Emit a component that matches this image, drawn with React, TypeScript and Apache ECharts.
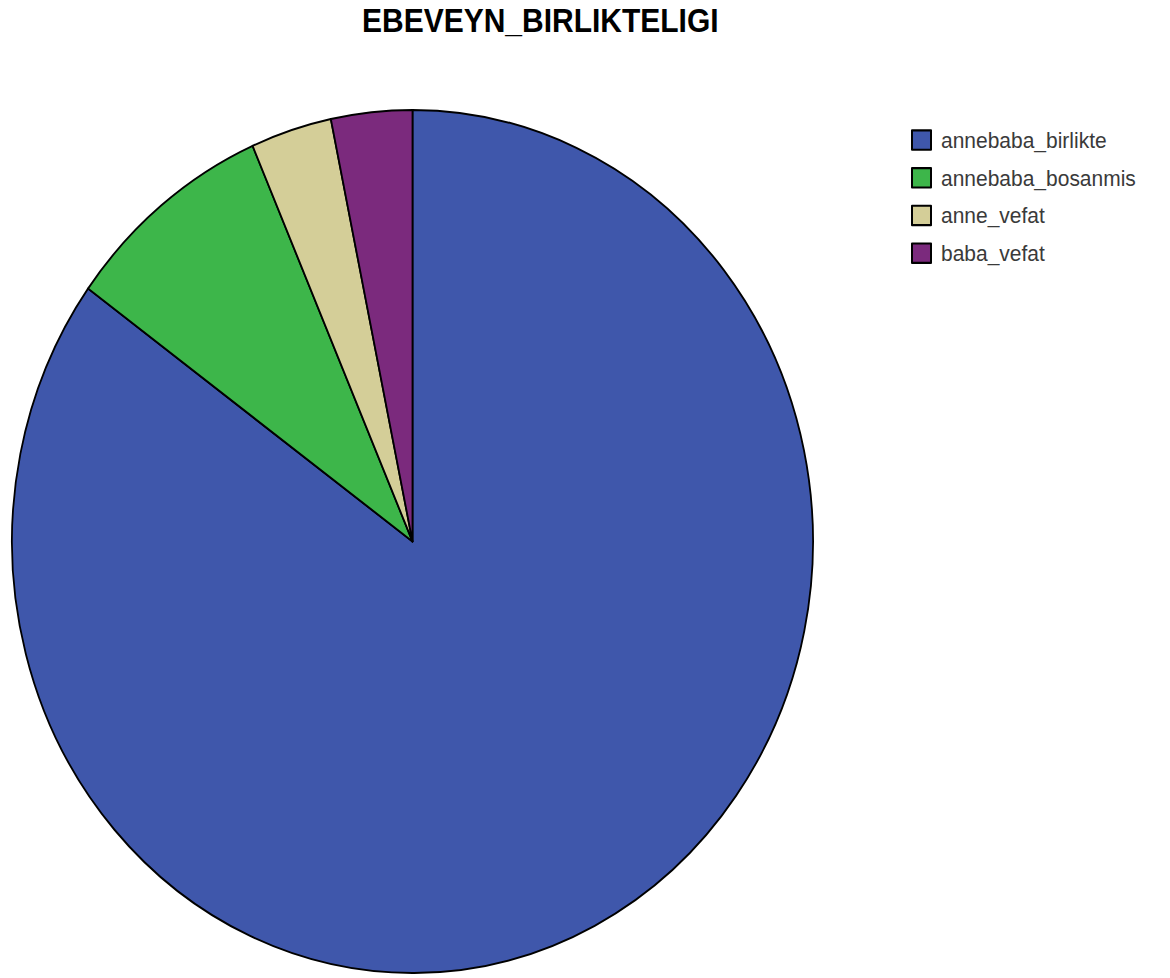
import React, { useEffect, useRef } from "react";
import * as echarts from "echarts";

const TITLE = "EBEVEYN_BIRLIKTELIGI";
const categories = ["annebaba_birlikte", "annebaba_bosanmis", "anne_vefat", "baba_vefat"];
const counts = [130, 13, 5, 5];
const colors = ["#3F57AB", "#3DB64A", "#D4CE98", "#7B2A7D"];

const SY = 431.5 / 400.5;
const W = 1170;
const H = 978 / SY;

export default function App() {
  const ref = useRef<HTMLDivElement>(null);
  useEffect(() => {
    if (!ref.current) return;
    const chart = echarts.init(ref.current, null, { renderer: "svg" });
    chart.setOption({
      animation: false,
      backgroundColor: "#ffffff",
      title: {
        text: TITLE,
        left: 357,
        top: 0,
        textStyle: { fontFamily: "Liberation Sans, Arial, sans-serif", fontWeight: "bold", fontSize: 30, color: "#000" },
      },
      legend: {
        orient: "vertical",
        left: 906,
        top: 114.5,
        itemWidth: 19,
        itemHeight: 18,
        itemGap: 14,
        icon: "rect",
        selectedMode: false,
        data: categories,
        textStyle: { fontFamily: "Liberation Sans, Arial, sans-serif", fontSize: 21, color: "#3a3a3a", padding: [0, 0, 0, 5] },
      },
      series: [
        {
          type: "pie",
          center: [412.5, 541.5 / SY],
          radius: [0, 400.5],
          startAngle: 90,
          clockwise: true,
          label: { show: false },
          labelLine: { show: false },
          emphasis: { disabled: true },
          itemStyle: { borderColor: "#000", borderWidth: 1.8 },
          data: categories.map((c, i) => ({ name: c, value: counts[i], itemStyle: { color: colors[i] } })),
        },
      ],
    });
    return () => chart.dispose();
  }, []);
  return (
    <div style={{ position: "absolute", left: 0, top: 0, width: W, height: 978, overflow: "hidden", background: "#fff" }}>
      <div
        ref={ref}
        style={{ width: W, height: H, transform: `scaleY(${SY})`, transformOrigin: "0 0" }}
      />
    </div>
  );
}
